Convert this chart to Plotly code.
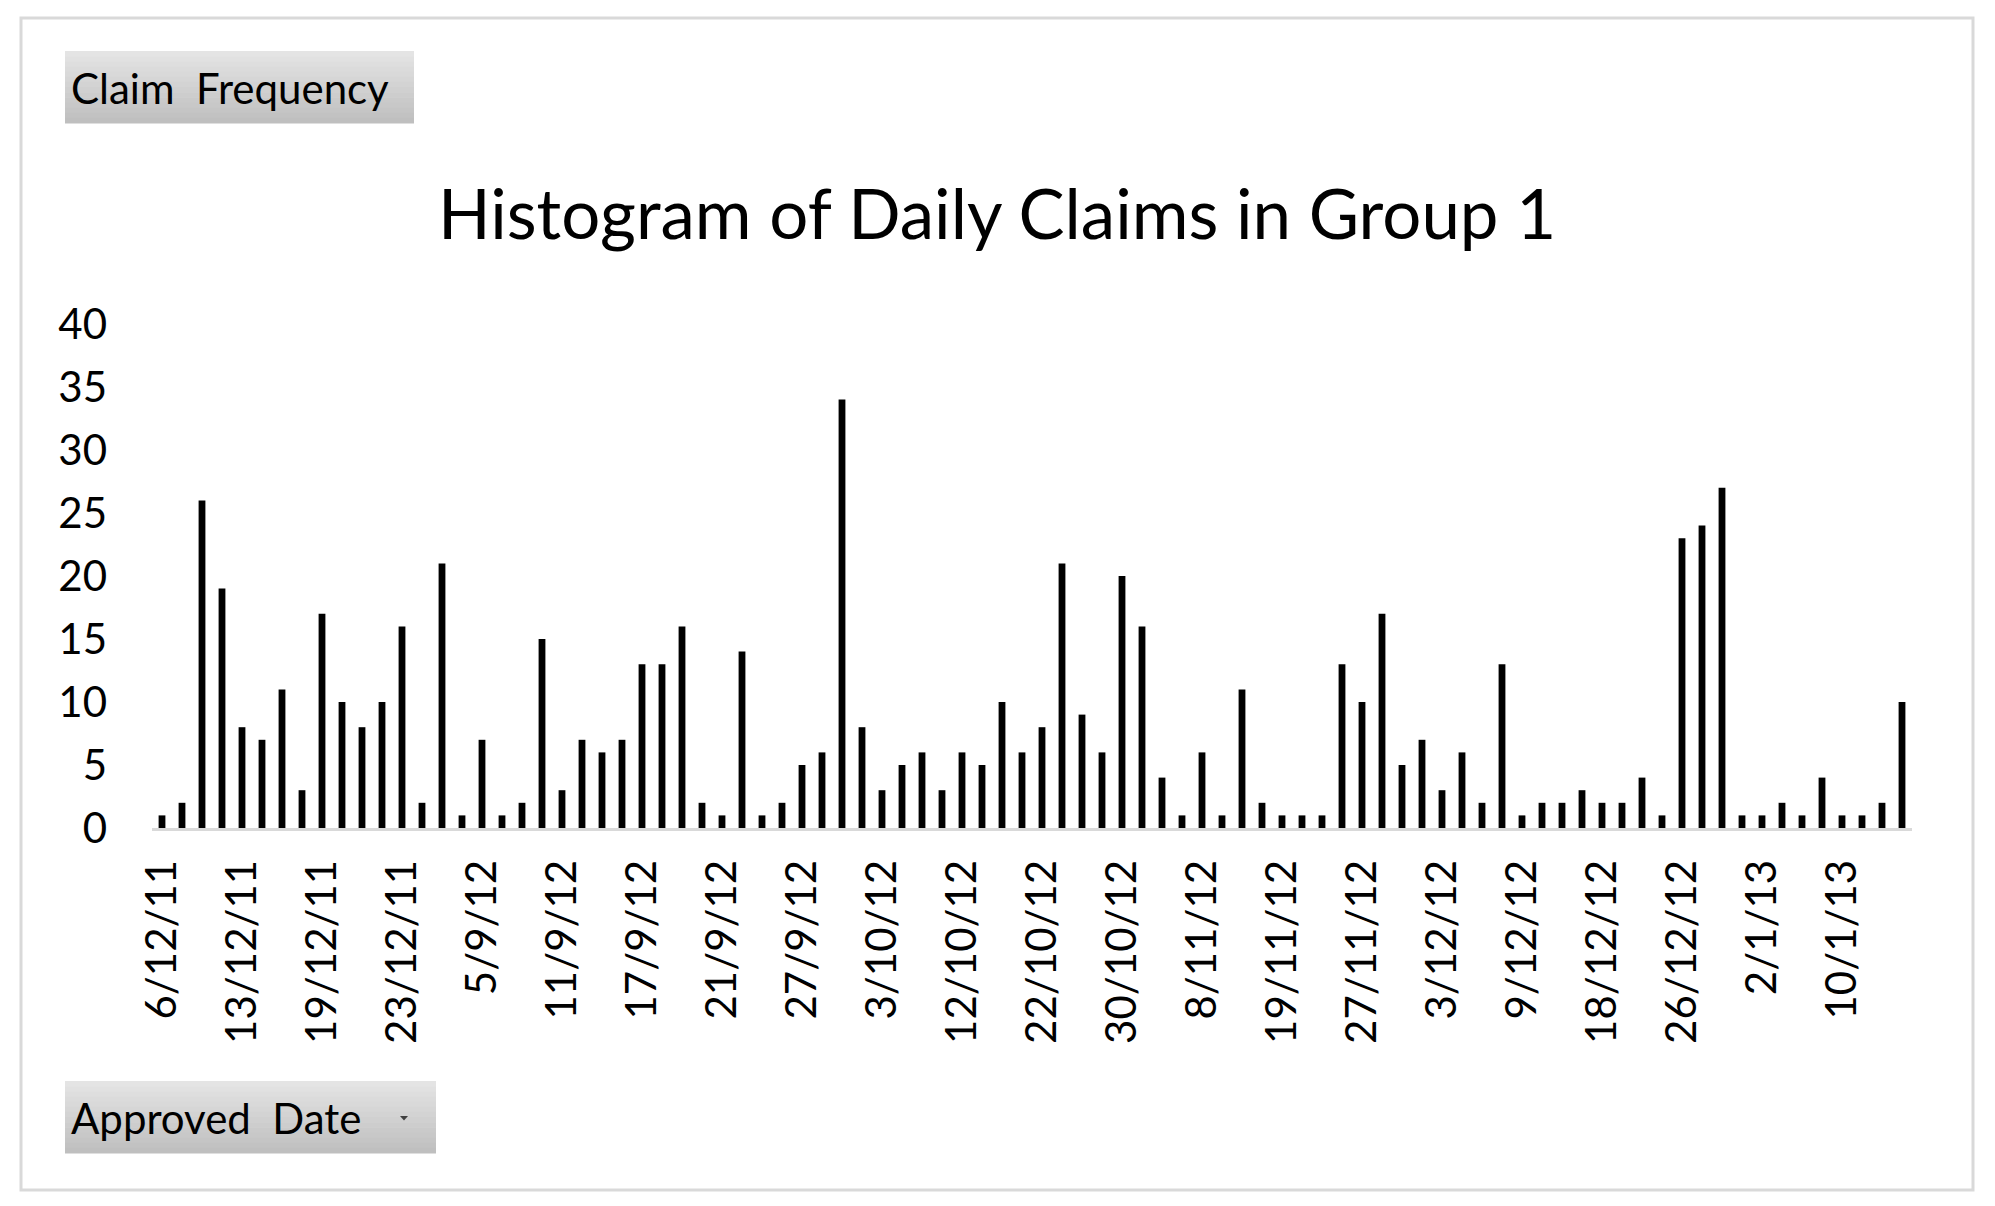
import plotly.graph_objects as go

# ---- data ----
claim_counts = [1, 2, 26, 19, 8, 7, 11, 3, 17, 10, 8, 10, 16, 2, 21, 1, 7, 1, 2, 15,
                3, 7, 6, 7, 13, 13, 16, 2, 1, 14, 1, 2, 5, 6, 34, 8, 3, 5, 6, 3,
                6, 5, 10, 6, 8, 21, 9, 6, 20, 16, 4, 1, 6, 1, 11, 2, 1, 1, 1, 13,
                10, 17, 5, 7, 3, 6, 2, 13, 1, 2, 2, 3, 2, 2, 4, 1, 23, 24, 27, 1,
                1, 2, 1, 4, 1, 1, 2, 10]
tick_labels = ["6/12/11", "13/12/11", "19/12/11", "23/12/11", "5/9/12", "11/9/12",
               "17/9/12", "21/9/12", "27/9/12", "3/10/12", "12/10/12", "22/10/12",
               "30/10/12", "8/11/12", "19/11/12", "27/11/12", "3/12/12", "9/12/12",
               "18/12/12", "26/12/12", "2/1/13", "10/1/13"]
label_every = 4
y_ticks = [0, 5, 10, 15, 20, 25, 30, 35, 40]

# ---- geometry (page body adds an 8px margin, compensate) ----
OFF = 8
W, H = 1995, 1206
ML, MT = 152 - OFF, 324 - OFF
PW, PH = 1760, 504
MR, MB = W - ML - PW, H - MT - PH


def px(x):
    return (x - OFF - ML) / PW


def py(y):
    return (MT + PH - (y - OFF)) / PH


positions = list(range(len(claim_counts)))

fig = go.Figure()
fig.add_trace(go.Bar(x=positions, y=claim_counts, marker=dict(color="black", line=dict(width=0)),
                     showlegend=False, hoverinfo="x+y"))

shapes = []
# outer frame
shapes.append(dict(type="rect", xref="paper", yref="paper", x0=px(21), x1=px(1973), y0=py(18), y1=py(1190),
                   line=dict(color="#d9d9d9", width=3), fillcolor="rgba(0,0,0,0)", layer="below"))


def gradient_box(x0, x1, y0, y1, n=14, top=(0xe4, 0xe4, 0xe4), bottom=(0xbf, 0xbf, 0xbf)):
    out = []
    h = (y1 - y0) / n
    for i in range(n):
        t = i / (n - 1)
        c = tuple(round(top[k] + (bottom[k] - top[k]) * t) for k in range(3))
        out.append(dict(type="rect", xref="paper", yref="paper",
                        x0=px(x0), x1=px(x1), y0=py(y0 + i * h), y1=py(y0 + (i + 1) * h + 0.5),
                        line=dict(width=0), fillcolor="rgb(%d,%d,%d)" % c, layer="below"))
    return out


shapes += gradient_box(65, 414, 51, 123)
shapes += gradient_box(65, 436, 1081, 1153)
# dropdown arrow
ax, ay = 404, 1118
shapes.append(dict(type="path", xref="paper", yref="paper",
                   path="M %f,%f L %f,%f L %f,%f Z" % (px(ax - 4), py(ay - 2), px(ax + 4), py(ay - 2), px(ax), py(ay + 2.5)),
                   fillcolor="#404040", line=dict(width=0)))

annotations = [
    dict(text="Histogram of Daily Claims in Group 1", xref="paper", yref="paper", x=px(997), y=py(213),
         xanchor="center", yanchor="middle", showarrow=False, font=dict(family="Lato", size=69, color="black")),
    dict(text="Claim  Frequency", xref="paper", yref="paper", x=px(69), y=py(88),
         xanchor="left", yanchor="middle", showarrow=False, font=dict(family="Lato", size=42, color="black")),
    dict(text="Approved  Date", xref="paper", yref="paper", x=px(69), y=py(1118),
         xanchor="left", yanchor="middle", showarrow=False, font=dict(family="Lato", size=42, color="black")),
]

fig.update_layout(
    width=W, height=H,
    margin=dict(l=ML, r=MR, t=MT, b=MB, pad=0),
    paper_bgcolor="white", plot_bgcolor="white",
    bargap=0.66,
    shapes=shapes, annotations=annotations,
    font=dict(family="Lato", size=42, color="black"),
    xaxis=dict(range=[-0.5, len(claim_counts) - 0.5], tickmode="array",
               tickvals=positions[::label_every], ticktext=tick_labels, tickangle=-90,
               showline=True, linecolor="#d9d9d9", linewidth=3, ticks="", showgrid=False,
               zeroline=False, ticklabelstandoff=12, tickfont=dict(family="Lato", size=42, color="black")),
    yaxis=dict(range=[0, 40], tickmode="array", tickvals=y_ticks, showline=False, showgrid=False,
               zeroline=False, ticks="", ticklabelstandoff=44,
               tickfont=dict(family="Lato", size=42, color="black")),
)

fig.write_html("out.html")
